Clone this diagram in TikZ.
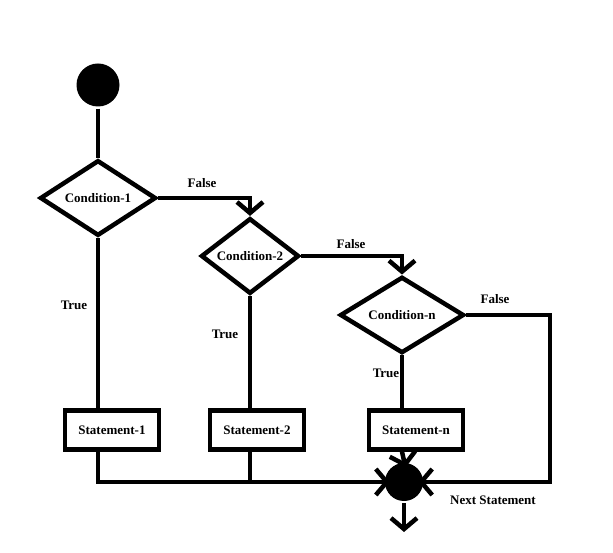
\documentclass[tikz,border=0pt]{standalone}
\usepackage{fontspec}
\setmainfont{Liberation Serif}
\usetikzlibrary{shapes.geometric,arrows.meta}
\begin{document}
\begin{tikzpicture}[
    x=1pt, y=-1pt,
    line width=4.5pt,
    >={Straight Barb[length=11pt,width=26pt]},
    dot/.style={circle, fill=black, inner sep=0pt},
    cond/.style={diamond, draw, inner sep=0pt, font=\bfseries\fontsize{13}{15}\selectfont},
    stmt/.style={rectangle, draw, minimum width=94pt, minimum height=39pt, inner sep=0pt, font=\bfseries\fontsize{13}{15}\selectfont},
    lbl/.style={font=\bfseries\fontsize{13}{15}\selectfont},
    into/.style={->, shorten >=-7pt}
]
    \useasboundingbox (0,0) rectangle (613,553);

    % start
    \node[dot, minimum size=43pt] (start) at (98,85) {};

    % conditions
    \node[cond, minimum width=116pt, minimum height=67pt] (cond1) at (98,198) {Condition-1};
    \node[cond, minimum width=98pt, minimum height=65pt] (cond2) at (250,256) {Condition-2};
    \node[cond, minimum width=124pt, minimum height=67pt] (condn) at (402,315) {Condition-n};

    % statements
    \node[stmt] (stmt1) at (112,430) {Statement-1};
    \node[stmt] (stmt2) at (257,430) {Statement-2};
    \node[stmt] (stmtn) at (416,430) {Statement-n};

    % merge
    \node[dot, minimum size=38pt] (merge) at (404,482) {};
    \coordinate (endn) at (550,482);
    \coordinate (out) at (404,532);

    % labels
    \node[lbl] (f1) at (202,183) {False};
    \node[lbl] (f2) at (351,244) {False};
    \node[lbl] (f3) at (495,299) {False};
    \node[lbl] (t1) at (74,305) {True};
    \node[lbl] (t2) at (225,334) {True};
    \node[lbl] (t3) at (386,373) {True};
    \node[lbl] (next) at (493,500) {Next Statement};

    % connectors
    \draw (start) -- (cond1.north);
    \draw[->] (cond1.east) -| (cond2.north);
    \draw[->] (cond2.east) -| (condn.north);
    \draw (cond1.south) -- (cond1.south |- stmt1.north);
    \draw (cond2.south) -- (cond2.south |- stmt2.north);
    \draw (condn.south) -- (condn.south |- stmtn.north);
    \draw[into] (cond1.south |- stmt1.south) |- (merge.west);
    \draw (cond2.south |- stmt2.south) -- (cond2.south |- merge.west);
    \draw[into] (condn.south |- stmtn.south) -- (merge.north);
    \draw[into] (condn.east) -| (endn) -- (merge.east);
    \draw[->] (merge.south) -- (out);
\end{tikzpicture}
\end{document}
